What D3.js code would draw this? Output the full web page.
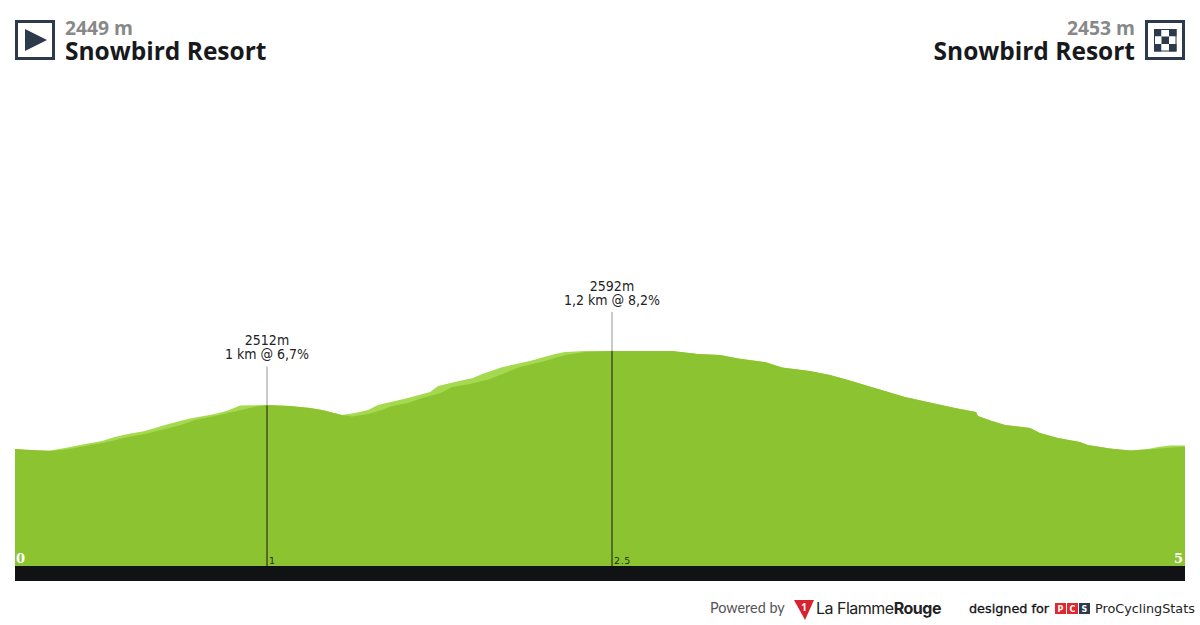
<!DOCTYPE html>
<html><head><meta charset="utf-8">
<style>html,body{margin:0;padding:0;background:#fff;overflow:hidden}svg{display:block}</style>
<script src="https://cdn.jsdelivr.net/npm/d3@7/dist/d3.min.js"></script>
</head><body>
<svg id="c" width="1200" height="625"></svg>
<script>
const lightKm=[0,.073,.150,.214,.278,.372,.427,.483,.556,.641,.705,.748,.855,.910,.962,1.077,1.175,1.261,1.312,1.397,1.453,1.509,1.551,1.624,1.679,1.774,1.808,1.880,1.957,1.996,2.085,2.201,2.308,2.350,2.436,2.551,2.808,2.863,2.919,3.013,3.090,3.205,3.278,3.397,3.483,3.560,3.645,3.739,3.803,3.910,4.017,4.107,4.115,4.175,4.231,4.338,4.380,4.457,4.551,4.585,4.679,4.765,4.842,4.885,4.936,5];
const lightEle=[2448,2445.7,2445.7,2449.4,2453.8,2459.6,2465.5,2470,2474.4,2483.2,2489.1,2492.7,2499.4,2504.5,2511.9,2512.6,2511.1,2508.2,2505.2,2497.9,2500.8,2505.2,2512.6,2518.5,2522.9,2531.7,2540.5,2546.4,2552.3,2558.2,2568.5,2577.3,2587.6,2590.5,2592,2592,2592,2589.8,2587.6,2586.1,2581,2575.8,2567.7,2562.6,2556.7,2549.4,2540.5,2531,2524.4,2516.3,2508.2,2502.3,2496.4,2489.1,2483.2,2478.8,2471.4,2464.1,2458.2,2453.8,2448.6,2445.7,2447.9,2450.8,2453,2453];
const darkKm=[0,.150,.214,.278,.372,.427,.483,.556,.641,.705,.769,.855,.962,1.026,1.077,1.175,1.261,1.312,1.397,1.440,1.509,1.568,1.611,1.679,1.739,1.816,1.868,1.944,2.030,2.094,2.158,2.265,2.350,2.436,2.551,2.808,2.863,2.919,3.013,3.090,3.205,3.278,3.397,3.483,3.560,3.645,3.739,3.803,3.910,4.017,4.107,4.115,4.175,4.231,4.338,4.380,4.457,4.551,4.585,4.679,4.765,4.842,4.893,5];
const darkEle=[2448,2445,2447,2450.8,2456.7,2461,2465.5,2470,2477.3,2483,2490.5,2496.4,2505,2510,2512.6,2511.1,2508.2,2505.2,2497.9,2495.7,2499.3,2505.2,2511,2515.5,2523,2530,2539,2543.5,2550.8,2559.6,2568.5,2577.3,2586.1,2590.5,2592,2592,2589.8,2587.6,2586.1,2581,2575.8,2567.7,2562.6,2556.7,2549.4,2540.5,2531,2524.4,2516.3,2508.2,2502.3,2496.4,2489.1,2483.2,2478.8,2471.4,2464.1,2458.2,2453.8,2448.6,2445.7,2447.2,2448.6,2451.6];
const climbKm=[1.077,2.551];
const climbEle=[2512,2592];
const climbTop=["2512m","2592m"];
const climbSub=["1 km @ 6,7%","1,2 km @ 8,2%"];
const tickLabels=["1","2.5"];
const endKm=[0,5];
const endLabels=["0","5"];
const startEle="2449 m",finishEle="2453 m",placeName="Snowbird Resort";

const svg=d3.select("#c");
const x=d3.scaleLinear().domain([0,5]).range([15,1185]);
const y=d3.scaleLinear().domain([2276,2592]).range([566,351]);
const area=d3.area().x(d=>x(d[0])).y0(y(2276)).y1(d=>y(d[1]));
svg.append("path").attr("d",area(d3.zip(lightKm,lightEle))).attr("fill","#a5d950");
svg.append("path").attr("d",area(d3.zip(darkKm,darkEle))).attr("fill","#8bc430");
svg.append("rect").attr("x",x(0)).attr("y",566).attr("width",x(5)-x(0)).attr("height",15).attr("fill","#111214");

const sans="'Open Sans','Noto Sans',sans-serif";
const tah="'DejaVu Sans',sans-serif";
climbKm.forEach((k,i)=>{
  const px=Math.round(x(k));
  const top=y(climbEle[i]);
  svg.append("line").attr("x1",px).attr("x2",px).attr("y1",top-39).attr("y2",top).attr("stroke","#b8b8b8").attr("stroke-width",1.5);
  svg.append("line").attr("x1",px).attr("x2",px).attr("y1",top).attr("y2",566).attr("stroke","#45572a").attr("stroke-width",1.6);
  svg.append("text").attr("x",px).attr("y",top-60).attr("text-anchor","middle").attr("font-family",tah).style("font-stretch","condensed").attr("font-size",14).attr("fill","#222").text(climbTop[i]);
  svg.append("text").attr("x",px).attr("y",top-46).attr("text-anchor","middle").attr("font-family",tah).style("font-stretch","condensed").attr("font-size",14).attr("fill","#222").text(climbSub[i]);
  svg.append("text").attr("x",px+2).attr("y",564).attr("font-family",tah).attr("font-size",9.5).attr("letter-spacing",0.6).attr("fill","#223015").text(tickLabels[i]);
});
endKm.forEach((k,i)=>{
  svg.append("text").attr("x",i?x(k)-2:x(k)+1).attr("y",563).attr("text-anchor",i?"end":"start").attr("font-family","'DejaVu Serif',serif").attr("font-weight","bold").attr("font-size",13).attr("fill","#fff").text(endLabels[i]);
});

// header
const ink="#2c3a4c";
function box(px){svg.append("rect").attr("x",px+1.5).attr("y",21.5).attr("width",37).attr("height",37).attr("fill","#fff").attr("stroke",ink).attr("stroke-width",3);}
box(15);box(1145);
svg.append("path").attr("d","M25 29L47 40L25 51Z").attr("fill",ink);
d3.range(3).forEach(r=>d3.range(3).forEach(c=>{
  svg.append("rect").attr("x",1154+c*7.5).attr("y",29+r*7.5).attr("width",7.5).attr("height",7.5).attr("fill",(r+c)%2==0?ink:"#fff");
}));
svg.append("rect").attr("x",1154.5).attr("y",29.5).attr("width",21.5).attr("height",21.5).attr("fill","none").attr("stroke",ink).attr("stroke-width",1);
svg.append("text").attr("x",65).attr("y",35).attr("font-family",sans).attr("font-weight",700).attr("font-size",19.3).attr("fill","#888").text(startEle);
svg.append("text").attr("x",65).attr("y",60).attr("font-family",sans).attr("font-weight",700).attr("font-size",24.5).attr("fill","#17191c").text(placeName);
svg.append("text").attr("x",1135).attr("y",35).attr("text-anchor","end").attr("font-family",sans).attr("font-weight",700).attr("font-size",19.3).attr("fill","#888").text(finishEle);
svg.append("text").attr("x",1135).attr("y",60).attr("text-anchor","end").attr("font-family",sans).attr("font-weight",700).attr("font-size",24.5).attr("fill","#17191c").text(placeName);

// footer
svg.append("text").attr("x",710).attr("y",613).attr("font-family","Lato,sans-serif").attr("font-size",14.4).attr("fill","#555").text("Powered by");
svg.append("path").attr("d","M794 600H814L805 620Z").attr("fill","#d8232f");
svg.append("text").attr("x",804).attr("y",611).attr("text-anchor","middle").attr("font-family",sans).attr("font-weight",700).attr("font-size",10).attr("fill","#fff").text("1");
const lf=svg.append("text").attr("x",816).attr("y",614).attr("font-family","Inter,sans-serif").attr("font-size",16).attr("letter-spacing",-0.5).attr("fill","#222");
lf.append("tspan").text("La Flamme");lf.append("tspan").attr("font-weight",700).text("Rouge");
svg.append("text").attr("x",969).attr("y",613).attr("font-family",tah).attr("font-size",12.8).attr("stroke","#111").attr("stroke-width",0.3).attr("fill","#111").text("designed for");
[["P","#e0282e",1055],["C","#e0282e",1067],["S","#2c3a4c",1079]].forEach(d=>{
  svg.append("rect").attr("x",d[2]).attr("y",603).attr("width",11).attr("height",11).attr("fill",d[1]);
  svg.append("text").attr("x",d[2]+5.5).attr("y",612).attr("text-anchor","middle").attr("font-family",tah).attr("font-weight",700).attr("font-size",8).attr("fill","#fff").text(d[0]);
});
svg.append("text").attr("x",1095).attr("y",613).attr("font-family",tah).attr("font-size",12.8).attr("fill","#222").text("ProCyclingStats");
</script>
</body></html>
